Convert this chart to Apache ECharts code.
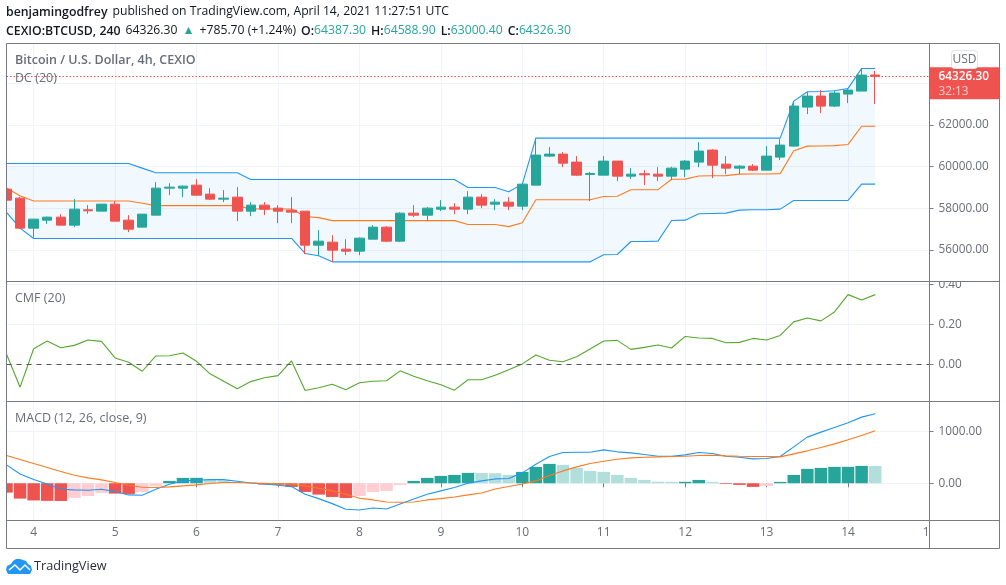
<!DOCTYPE html>
<html>
<head>
<meta charset="utf-8">
<title>BTCUSD</title>
<script src="https://cdn.jsdelivr.net/npm/echarts@6/dist/echarts.min.js"></script>
<style>
html, body { margin: 0; padding: 0; background: #fff; }
#chart { width: 1006px; height: 585px; }
</style>
</head>
<body>
<div id="chart"></div>
<script>
// day labels on the time axis, one every six 4h bars
var dayLabels = ['4', '5', '6', '7', '8', '9', '10', '11', '12', '13', '14', '15'];

// 4h candles
var opens = [58912, 58480, 57040, 57424, 57568, 57184, 57920, 57856, 58192, 57424, 57088, 57664, 58960, 58960, 59104, 58672, 58432, 58528, 57856, 58144, 58000, 57904, 57856, 56224, 56368, 56032, 55936, 56512, 57088, 56416, 57760, 57664, 57952, 58048, 57952, 58528, 58192, 58288, 58096, 59104, 60496, 60592, 60208, 59616, 59584, 60256, 59536, 59648, 59632, 59536, 59872, 60208, 60784, 60112, 59920, 60016, 59824, 60448, 60976, 62848, 63376, 62896, 63472, 63616, 64387.3];
var highs = [59024, 58544, 57472, 57600, 57712, 58432, 58144, 58192, 58336, 57664, 57712, 59248, 59200, 59088, 59392, 58960, 58864, 59008, 58288, 58288, 58144, 58528, 57856, 56944, 56704, 56512, 56592, 57184, 57136, 57808, 58144, 58048, 58384, 58240, 58816, 58672, 58432, 58528, 59184, 61360, 60928, 60688, 60496, 59744, 60496, 60256, 59920, 59824, 59968, 59984, 60304, 61168, 60832, 60496, 60064, 60112, 60976, 61312, 63136, 63568, 63664, 63632, 63744, 64704, 64588.9];
var lows = [57792, 57008, 56592, 57248, 57184, 57088, 57728, 57856, 57376, 56848, 57088, 57664, 58624, 58528, 58592, 58384, 58288, 57376, 57616, 57664, 57280, 57280, 55792, 55696, 55424, 55744, 55744, 56512, 56368, 56368, 57568, 57376, 57856, 57712, 57712, 58000, 57904, 57904, 57904, 59104, 60448, 59968, 59536, 58336, 59584, 59296, 59392, 59104, 59296, 59344, 59488, 59968, 59440, 59632, 59632, 59776, 59824, 60304, 60976, 62512, 62560, 62848, 63040, 63616, 63000.4];
var closes = [58384, 57040, 57472, 57568, 57184, 57952, 57872, 58192, 57376, 56992, 57712, 58960, 59008, 59056, 58624, 58432, 58480, 57856, 58144, 57952, 57856, 57808, 56224, 56416, 55984, 55936, 56560, 57088, 56416, 57760, 57664, 58000, 58048, 57952, 58528, 58144, 58288, 58096, 59152, 60544, 60592, 60160, 59584, 59664, 60256, 59536, 59632, 59600, 59536, 59920, 60256, 60736, 60064, 59920, 60016, 59824, 60496, 61024, 62896, 63376, 62896, 63520, 63664, 64384, 64326.3];

// Donchian channel
var dcUpper = [60144, 60144, 60144, 60144, 60144, 60144, 60144, 60144, 60144, 60144, 59920, 59696, 59696, 59696, 59696, 59696, 59696, 59696, 59376, 59376, 59376, 59376, 59376, 59376, 59376, 59376, 59376, 59376, 59376, 59376, 59376, 59376, 59376, 59376, 58992, 58992, 58992, 58784, 59152, 61360, 61360, 61360, 61360, 61360, 61360, 61360, 61360, 61360, 61360, 61360, 61360, 61360, 61360, 61360, 61360, 61360, 61360, 61360, 63136, 63584, 63600, 63632, 63744, 64704, 64704];
var dcBasis = [58968, 58592, 58344, 58344, 58344, 58344, 58344, 58344, 58344, 58344, 58232, 58120, 58120, 58120, 58120, 58120, 58120, 58120, 57960, 57960, 57960, 57960, 57600, 57544, 57400, 57400, 57400, 57400, 57400, 57400, 57400, 57400, 57400, 57400, 57216, 57216, 57216, 57112, 57296, 58400, 58400, 58400, 58400, 58400, 58560, 58568, 58880, 58880, 58888, 59384, 59392, 59544, 59552, 59560, 59632, 59640, 59640, 59656, 60752, 60976, 60984, 61000, 61056, 61928, 61928];
var dcLower = [57792, 57040, 56544, 56544, 56544, 56544, 56544, 56544, 56544, 56544, 56544, 56544, 56544, 56544, 56544, 56544, 56544, 56544, 56544, 56544, 56544, 56544, 55824, 55712, 55424, 55424, 55424, 55424, 55424, 55424, 55424, 55424, 55424, 55424, 55424, 55424, 55424, 55424, 55424, 55424, 55424, 55424, 55424, 55424, 55760, 55776, 56400, 56400, 56416, 57408, 57424, 57728, 57744, 57760, 57904, 57920, 57920, 57952, 58368, 58368, 58368, 58368, 58368, 59152, 59152];

// Chaikin money flow
var cmf = [0.052, -0.115, 0.078, 0.117, 0.083, 0.095, 0.122, 0.115, 0.032, 0.01, -0.035, 0.042, 0.043, 0.057, 0.015, -0.048, -0.085, -0.123, -0.087, -0.068, -0.057, 0.017, -0.132, -0.118, -0.1, -0.128, -0.093, -0.085, -0.083, -0.033, -0.06, -0.083, -0.103, -0.13, -0.078, -0.078, -0.055, -0.027, 0.002, 0.047, 0.02, 0.013, 0.038, 0.077, 0.117, 0.12, 0.075, 0.085, 0.097, 0.082, 0.14, 0.132, 0.13, 0.108, 0.11, 0.13, 0.122, 0.145, 0.213, 0.233, 0.218, 0.263, 0.35, 0.323, 0.35];

// MACD
var macdHist = [-180, -295, -330, -338, -340, -282, -244, -186, -199, -205, -167, -51, 45, 103, 104, 70, 58, 26, 13, -26, -30, -70, -167, -218, -263, -282, -244, -167, -147, -32, 45, 103, 141, 160, 199, 196, 192, 160, 218, 314, 372, 353, 295, 237, 218, 160, 103, 64, 30, 26, 28, 64, 26, -13, -32, -70, -51, 26, 160, 276, 295, 314, 315, 333, 330];
var macdLine = [353, 179, 70, -13, -115, -128, -135, -115, -160, -224, -231, -115, -19, 45, 58, 70, 70, 38, 6, -13, -38, -64, -212, -295, -391, -500, -513, -474, -494, -397, -301, -212, -147, -83, 0, 45, 83, 90, 199, 365, 513, 590, 596, 596, 641, 603, 583, 551, 519, 519, 545, 590, 570, 519, 500, 468, 474, 513, 699, 885, 981, 1071, 1160, 1269, 1333];
var macdSignal = [532, 455, 378, 301, 224, 154, 103, 64, 13, -38, -77, -83, -70, -51, -32, -6, 13, 13, 6, 0, -13, -19, -51, -96, -147, -212, -288, -320, -359, -365, -359, -320, -295, -263, -224, -186, -109, -64, -13, 45, 147, 237, 314, 378, 423, 461, 487, 500, 506, 513, 519, 532, 538, 526, 519, 513, 513, 506, 564, 622, 686, 756, 833, 917, 1006];

// y axis ticks of the panes
var priceTicks = [56000, 58000, 60000, 62000, 64000];
var priceLabels = [56000, 58000, 60000, 62000];
var cmfTicks = [0, 0.2, 0.4];
var macdTicks = [0, 1000];

var lastPrice = 64326.3;
var countdown = '32:13';

// time slots, three more than the bars so that the axis runs on past the last candle
var timeSlots = [];
for (var s = 0; s < 69; s++) {
    timeSlots.push((s - 2) % 6 === 0 ? dayLabels[(s - 2) / 6] : '');
}

var candles = opens.map(function (o, i) {
    return [o, closes[i], lows[i], highs[i]];
});

var chart = echarts.init(document.getElementById('chart'), null, { renderer: 'canvas' });

var FONT = '"Open Sans", sans-serif';
var TEXT = '#6a6d78';
var FRAME = '#787b86';
var GRID = '#f0f3fa';
var UP = '#26a69a';
var DOWN = '#ef5350';
var BLUE = '#2196f3';
var ORANGE = '#ff7a1f';
var LINE_WIDTH = 1.1;

function isDayTick(index, value) {
    return value !== '';
}

function timeAxis(gridIndex, withLabels) {
    return {
        type: 'category',
        gridIndex: gridIndex,
        data: timeSlots,
        boundaryGap: false,
        axisLine: { show: false },
        axisTick: {
            show: withLabels,
            interval: isDayTick,
            length: 4,
            lineStyle: { color: FRAME }
        },
        axisLabel: {
            show: withLabels,
            interval: isDayTick,
            color: TEXT,
            fontFamily: FONT,
            fontSize: 12,
            margin: 6,
            hideOverlap: false,
            showMinLabel: true,
            showMaxLabel: true
        },
        splitLine: { show: true, interval: isDayTick, lineStyle: { color: GRID } }
    };
}

function valueAxis(gridIndex, min, max, ticks, labels, digits) {
    return {
        type: 'value',
        gridIndex: gridIndex,
        position: 'right',
        min: min,
        max: max,
        scale: true,
        axisLine: { show: false },
        axisTick: {
            show: true,
            customValues: ticks,
            length: 4,
            lineStyle: { color: FRAME }
        },
        axisLabel: {
            customValues: labels,
            color: TEXT,
            fontFamily: FONT,
            fontSize: 11.8,
            margin: 9,
            padding: [1, 0, 0, 0],
            showMinLabel: true,
            showMaxLabel: true,
            formatter: function (v) { return v.toFixed(digits); }
        },
        splitLine: { show: true, lineStyle: { color: GRID } }
    };
}

function channelLine(name, values, color) {
    return {
        name: name,
        type: 'line',
        xAxisIndex: 0,
        yAxisIndex: 0,
        data: values,
        symbol: 'none',
        z: 3,
        lineStyle: { color: color, width: LINE_WIDTH }
    };
}

function paneLine(name, values, color, pane, extra) {
    return Object.assign({
        name: name,
        type: 'line',
        xAxisIndex: pane,
        yAxisIndex: pane,
        data: values,
        symbol: 'none',
        z: 4,
        lineStyle: { color: color, width: LINE_WIDTH }
    }, extra || {});
}

function paneTitle(text, top, bold) {
    return {
        text: text,
        left: 15,
        top: top,
        padding: 0,
        textStyle: {
            color: TEXT,
            fontFamily: FONT,
            fontSize: 12.5,
            fontWeight: bold ? 600 : 400
        }
    };
}

var headerRich = {
    b: { color: '#131722', fontFamily: FONT, fontSize: 12.3, fontWeight: 600 },
    n: { color: '#131722', fontFamily: FONT, fontSize: 12.2, fontWeight: 400 },
    g: { color: UP, fontFamily: FONT, fontSize: 12.2, fontWeight: 400 }
};

var option = {
    animation: false,
    backgroundColor: '#fff',
    title: [
        {
            text: '{b|benjamingodfrey} {n|published on TradingView.com, April 14, 2021 11:27:51 UTC}',
            left: 6, top: 3, padding: 0,
            textStyle: { rich: headerRich, fontWeight: 400 }
        },
        {
            text: '{b|CEXIO:BTCUSD, 240} {n|64326.30} {g|▲} {n|+785.70 (+1.24%)} {b|O:}{g|64387.30} {b|H:}{g|64588.90} {b|L:}{g|63000.40} {b|C:}{g|64326.30}',
            left: 6, top: 22, padding: 0,
            textStyle: { rich: headerRich, fontWeight: 400 }
        },
        paneTitle('Bitcoin / U.S. Dollar, 4h, CEXIO', 54, true),
        paneTitle('DC (20)', 72, false),
        paneTitle('CMF (20)', 292, false),
        paneTitle('MACD (12, 26, close, 9)', 412, false),
        {
            text: 'TradingView',
            left: 34, top: 560, padding: 0,
            textStyle: { color: '#2a2e39', fontFamily: FONT, fontSize: 12.7, fontWeight: 400 }
        }
    ],
    grid: [
        { left: 6.5, width: 923, top: 43.5, height: 238 },
        { left: 6.5, width: 923, top: 281.5, height: 120 },
        { left: 6.5, width: 923, top: 401.5, height: 119 }
    ],
    xAxis: [timeAxis(0, false), timeAxis(1, false), timeAxis(2, true)],
    yAxis: [
        valueAxis(0, 54480, 65900, priceTicks, priceLabels, 2),
        valueAxis(1, -0.187, 0.416, cmfTicks, cmfTicks, 2),
        valueAxis(2, -715, 1569, macdTicks, macdTicks, 2)
    ],
    series: [
        {
            name: 'DC band',
            type: 'custom',
            xAxisIndex: 0,
            yAxisIndex: 0,
            data: dcUpper.map(function (u, i) { return [i, u, dcLower[i]]; }),
            encode: { x: 0, y: [1, 2] },
            silent: true,
            z: 1,
            renderItem: function (params, api) {
                if (params.dataIndex !== 0) {
                    return null;
                }
                var top = dcUpper.map(function (u, i) { return api.coord([i, u]); });
                var bottom = dcLower.map(function (l, i) { return api.coord([i, l]); }).reverse();
                return {
                    type: 'polygon',
                    shape: { points: top.concat(bottom) },
                    style: { fill: 'rgba(33,160,243,0.06)' }
                };
            }
        },
        channelLine('Upper', dcUpper, BLUE),
        channelLine('Lower', dcLower, BLUE),
        channelLine('Basis', dcBasis, ORANGE),
        {
            name: 'BTCUSD',
            type: 'candlestick',
            xAxisIndex: 0,
            yAxisIndex: 0,
            data: candles,
            barWidth: 10,
            z: 5,
            itemStyle: {
                color: UP,
                color0: DOWN,
                borderColor: UP,
                borderColor0: DOWN,
                borderWidth: 1
            },
            markLine: {
                silent: true,
                symbol: 'none',
                data: [{ yAxis: lastPrice }],
                lineStyle: { color: DOWN, type: [1.5, 2], width: 1 },
                label: {
                    position: 'end',
                    distance: 0,
                    offset: [0, 7],
                    formatter: '{p|' + lastPrice.toFixed(2) + '}\n{t|' + countdown + '}',
                    backgroundColor: DOWN,
                    borderRadius: [0, 2, 2, 0],
                    padding: [2, 11, 1, 9],
                    rich: {
                        p: { color: '#fff', fontFamily: FONT, fontSize: 11.8, lineHeight: 15, fontWeight: 600 },
                        t: { color: '#fcd0ce', fontFamily: FONT, fontSize: 11.8, lineHeight: 14 }
                    }
                }
            }
        },
        paneLine('CMF', cmf, '#55a82e', 1, {
            markLine: {
                silent: true,
                symbol: 'none',
                label: { show: false },
                data: [{ yAxis: 0 }],
                lineStyle: { color: '#555', type: [5, 5], width: 1 }
            }
        }),
        {
            name: 'Histogram',
            type: 'bar',
            xAxisIndex: 2,
            yAxisIndex: 2,
            data: macdHist,
            barWidth: 12.5,
            z: 2,
            itemStyle: {
                color: function (p) {
                    var prev = macdHist[p.dataIndex - 1];
                    var rising = prev !== undefined && p.value > prev;
                    if (p.value >= 0) {
                        return rising ? UP : '#b2dfdb';
                    }
                    return rising ? '#ffcdd2' : DOWN;
                }
            }
        },
        paneLine('MACD', macdLine, BLUE, 2),
        paneLine('Signal', macdSignal, ORANGE, 2)
    ],
    graphic: [
        // the plot frame cuts the overhanging first bars and the axis labels
        { type: 'rect', z: 50, shape: { x: 0, y: 43, width: 6, height: 506 }, style: { fill: '#fff' } },
        { type: 'rect', z: 50, shape: { x: 931, y: 268, width: 67, height: 13 }, style: { fill: '#fff' } },
        { type: 'rect', z: 50, shape: { x: 930, y: 522, width: 40, height: 26 }, style: { fill: '#fff' } },
        { type: 'rect', z: 60, shape: { x: 6.5, y: 43.5, width: 993, height: 505 }, style: { fill: 'none', stroke: FRAME, lineWidth: 1 } },
        { type: 'line', z: 60, shape: { x1: 929.5, y1: 43.5, x2: 929.5, y2: 548.5 }, style: { stroke: FRAME, lineWidth: 1 } },
        { type: 'line', z: 60, shape: { x1: 6.5, y1: 281.5, x2: 999.5, y2: 281.5 }, style: { stroke: FRAME, lineWidth: 1 } },
        { type: 'line', z: 60, shape: { x1: 6.5, y1: 401.5, x2: 999.5, y2: 401.5 }, style: { stroke: FRAME, lineWidth: 1 } },
        { type: 'line', z: 60, shape: { x1: 6.5, y1: 520.5, x2: 999.5, y2: 520.5 }, style: { stroke: FRAME, lineWidth: 1 } },
        // currency badge
        {
            type: 'rect', z: 60,
            shape: { x: 951.5, y: 50.5, width: 26, height: 18, r: 3 },
            style: { fill: '#fff', stroke: '#e0e3eb', lineWidth: 1 }
        },
        {
            type: 'text', z: 61, x: 964.5, y: 59.5,
            style: { text: 'USD', fill: TEXT, font: '12px ' + FONT, textAlign: 'center', textVerticalAlign: 'middle' }
        },
        // logo
        {
            type: 'polygon', z: 60,
            shape: { points: [[8, 574], [6, 570], [7, 566], [11, 564], [13, 561], [16, 559], [20, 559], [23, 560], [26, 561], [28, 564], [31, 566], [32, 570], [30, 574]] },
            style: { fill: BLUE }
        },
        {
            type: 'polyline', z: 61,
            shape: { points: [[9, 570], [15, 565], [20, 570], [25, 565], [30, 570]] },
            style: { fill: 'none', stroke: '#fff', lineWidth: 1.5 }
        }
    ]
};

chart.setOption(option);
</script>
</body>
</html>
